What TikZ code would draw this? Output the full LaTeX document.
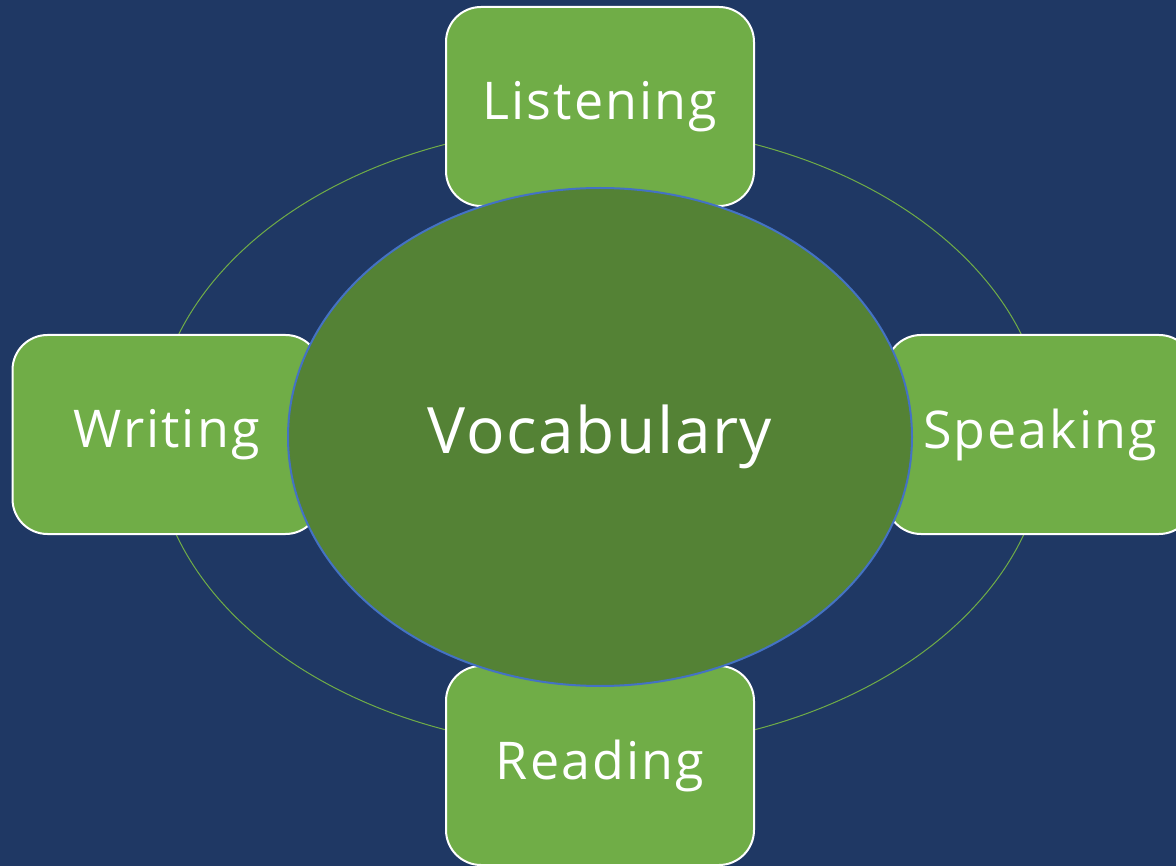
\documentclass[tikz,border=0pt]{standalone}
\usepackage{fontspec}
\setmainfont{Open Sans}
\definecolor{navy}{HTML}{1F3864}
\definecolor{leaf}{HTML}{70AD47}
\definecolor{moss}{HTML}{548235}
\definecolor{rim}{HTML}{4472C4}
\usetikzlibrary{shapes.geometric}
\tikzset{
  skill/.style={draw=white, line width=2pt, fill=leaf, rounded corners=35pt,
    minimum width=308pt, minimum height=199pt, inner sep=0pt,
    text=white, font=\fontsize{52}{58}\selectfont\addfontfeature{LetterSpace=4}},
  hub/.style={ellipse, draw=rim, line width=2pt, fill=moss, inner sep=0pt,
    minimum width=624pt, minimum height=498pt,
    text=white, font=\fontsize{64}{70}\selectfont\addfontfeature{LetterSpace=2.5}},
  ring/.style={draw=leaf, line width=1pt}
}
\begin{document}
\begin{tikzpicture}[x=1pt,y=-1pt]
  \fill[navy] (0,0) rectangle (1176,866);
  \useasboundingbox (0,0) rectangle (1176,866);
  % cycle ring behind the boxes
  \coordinate (c) at (600,437);
  \draw[ring] (c) ellipse [x radius=446pt, y radius=312pt];
  % the four skills
  \node[skill] (listen) at (600,106.5) {Listening};
  \node[skill] (speak)  at (1040,434.5) {Speaking};
  \node[skill] (write)  at (166.5,434.5) {Writing};
  \node[skill] (read)   at (600,765.5) {Reading};
  % central hub
  \node[hub] (vocab) at (c) {Vocabulary};
\end{tikzpicture}
\end{document}
